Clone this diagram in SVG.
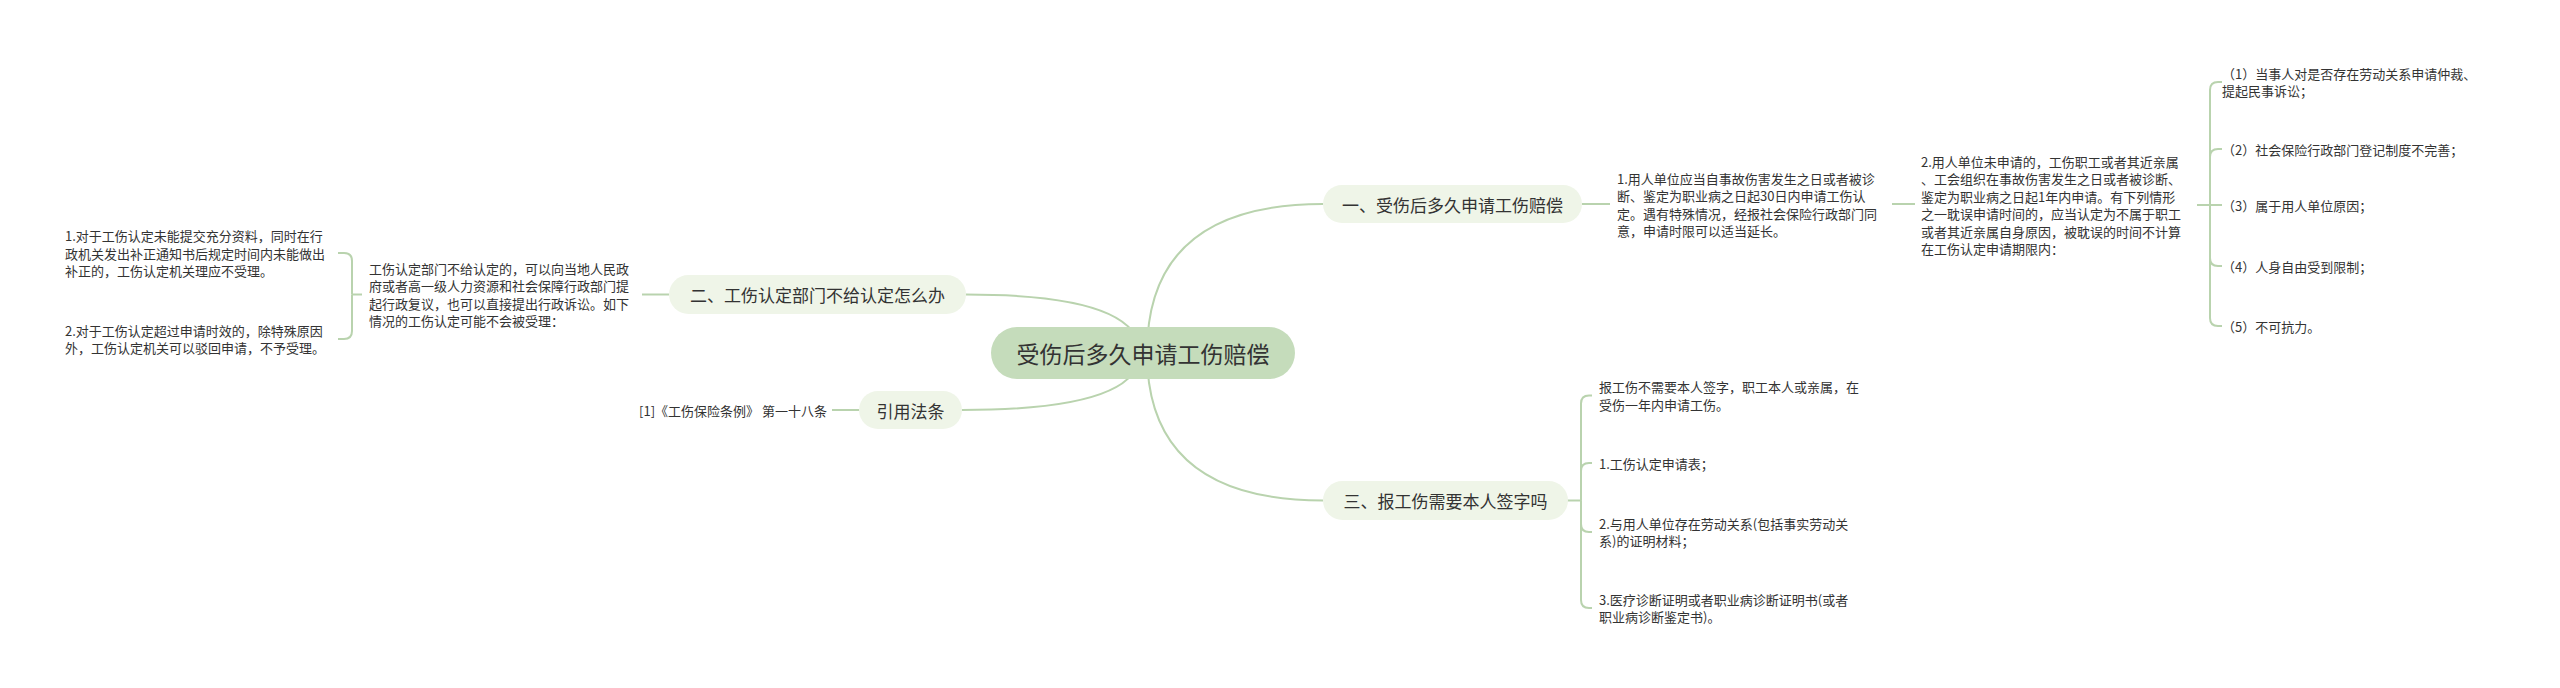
<svg xmlns="http://www.w3.org/2000/svg" width="2560" height="688" viewBox="0 0 2560 688">
<style>
text{font-family:"Noto Sans CJK SC","Noto Sans",sans-serif;fill:#333;dominant-baseline:central}
.c{fill:none;stroke:#b9d3ae;stroke-width:2}
.root{fill:#c5dcbb}
.br{fill:#eff5e8}
.t23{font-size:23px;text-anchor:middle}
.t17{font-size:17px;text-anchor:middle}
.t13{font-size:13px}
</style>
<rect width="2560" height="688" fill="#fff"/>
<g id="connectors">
<path class="c" d="M1147 353 Q1147 204 1323 204"/>
<path class="c" d="M1147 353 Q1147 500.5 1323 500.5"/>
<path class="c" d="M1140 353 Q1140 294.5 966 294.5"/>
<path class="c" d="M1140 353 Q1140 410 962 410"/>
<path class="c" d="M1582 204 H1610"/>
<path class="c" d="M1892 204 H1915"/>
<path class="c" d="M2197 205 H2210"/>
<path class="c" d="M2210 205 V90 Q2210 82 2218 82 H2222"/>
<path class="c" d="M2210 205 V157 Q2210 149 2218 149 H2222"/>
<path class="c" d="M2210 205 H2222"/>
<path class="c" d="M2210 205 V258 Q2210 266 2218 266 H2222"/>
<path class="c" d="M2210 205 V318 Q2210 326 2218 326 H2222"/>
<path class="c" d="M1567 500.5 H1581"/>
<path class="c" d="M1581 500.5 V403.5 Q1581 395.5 1589 395.5 H1592"/>
<path class="c" d="M1581 500.5 V471 Q1581 463 1589 463 H1592"/>
<path class="c" d="M1581 500.5 V524 Q1581 532 1589 532 H1592"/>
<path class="c" d="M1581 500.5 V600 Q1581 608 1589 608 H1592"/>
<path class="c" d="M669 294.5 H642"/>
<path class="c" d="M362 294.5 H352"/>
<path class="c" d="M352 294.5 V261 Q352 253 344 253 H338"/>
<path class="c" d="M352 294.5 V331 Q352 339 344 339 H338"/>
<path class="c" d="M859 410 H832"/>
</g>
<g id="root">
<rect class="root" x="991" y="327" width="304" height="52" rx="26"/>
<text class="t23" x="1143" y="353">受伤后多久申请工伤赔偿</text>
</g>
<g id="b1">
<rect class="br" x="1323" y="185" width="259" height="38" rx="19"/>
<text class="t17" x="1452.5" y="204">一、受伤后多久申请工伤赔偿</text>
</g>
<g id="b2">
<rect class="br" x="669" y="275" width="297" height="39" rx="19.5"/>
<text class="t17" x="817.5" y="294.5">二、工伤认定部门不给认定怎么办</text>
</g>
<g id="b3">
<rect class="br" x="1323" y="481" width="245" height="39" rx="19.5"/>
<text class="t17" x="1445.5" y="500.5">三、报工伤需要本人签字吗</text>
</g>
<g id="b4">
<rect class="br" x="859" y="391" width="103" height="38" rx="19"/>
<text class="t17" x="910.5" y="410">引用法条</text>
</g>
<g id="b1-1">
<text class="t13" x="1617" y="178">1.用人单位应当自事故伤害发生之日或者被诊</text>
<text class="t13" x="1617" y="195.5">断、鉴定为职业病之日起30日内申请工伤认</text>
<text class="t13" x="1617" y="213">定。遇有特殊情况，经报社会保险行政部门同</text>
<text class="t13" x="1617" y="230.5">意，申请时限可以适当延长。</text>
</g>
<g id="b1-2">
<text class="t13" x="1921" y="161.25">2.用人单位未申请的，工伤职工或者其近亲属</text>
<text class="t13" x="1921" y="178.75">、工会组织在事故伤害发生之日或者被诊断、</text>
<text class="t13" x="1921" y="196.25">鉴定为职业病之日起1年内申请。有下列情形</text>
<text class="t13" x="1921" y="213.75">之一耽误申请时间的，应当认定为不属于职工</text>
<text class="t13" x="1921" y="231.25">或者其近亲属自身原因，被耽误的时间不计算</text>
<text class="t13" x="1921" y="248.75">在工伤认定申请期限内：</text>
</g>
<g id="b1-2-1">
<text class="t13" x="2222" y="73.25">（1）当事人对是否存在劳动关系申请仲裁、</text>
<text class="t13" x="2222" y="90.75">提起民事诉讼；</text>
</g>
<g id="b1-2-2"><text class="t13" x="2222" y="149">（2）社会保险行政部门登记制度不完善；</text></g>
<g id="b1-2-3"><text class="t13" x="2222" y="205">（3）属于用人单位原因；</text></g>
<g id="b1-2-4"><text class="t13" x="2222" y="266">（4）人身自由受到限制；</text></g>
<g id="b1-2-5"><text class="t13" x="2222" y="326">（5）不可抗力。</text></g>
<g id="b3-1">
<text class="t13" x="1599" y="386.75">报工伤不需要本人签字，职工本人或亲属，在</text>
<text class="t13" x="1599" y="404.25">受伤一年内申请工伤。</text>
</g>
<g id="b3-2"><text class="t13" x="1599" y="463">1.工伤认定申请表；</text></g>
<g id="b3-3">
<text class="t13" x="1599" y="523.25">2.与用人单位存在劳动关系(包括事实劳动关</text>
<text class="t13" x="1599" y="540.75">系)的证明材料；</text>
</g>
<g id="b3-4">
<text class="t13" x="1599" y="599.25">3.医疗诊断证明或者职业病诊断证明书(或者</text>
<text class="t13" x="1599" y="616.75">职业病诊断鉴定书)。</text>
</g>
<g id="b2-1">
<text class="t13" x="369" y="268.25">工伤认定部门不给认定的，可以向当地人民政</text>
<text class="t13" x="369" y="285.75">府或者高一级人力资源和社会保障行政部门提</text>
<text class="t13" x="369" y="303.25">起行政复议，也可以直接提出行政诉讼。如下</text>
<text class="t13" x="369" y="320.75">情况的工伤认定可能不会被受理：</text>
</g>
<g id="b2-1-1">
<text class="t13" x="65" y="235.5">1.对于工伤认定未能提交充分资料，同时在行</text>
<text class="t13" x="65" y="253">政机关发出补正通知书后规定时间内未能做出</text>
<text class="t13" x="65" y="270.5">补正的，工伤认定机关理应不受理。</text>
</g>
<g id="b2-1-2">
<text class="t13" x="65" y="330.25">2.对于工伤认定超过申请时效的，除特殊原因</text>
<text class="t13" x="65" y="347.75">外，工伤认定机关可以驳回申请，不予受理。</text>
</g>
<g id="b4-1"><text class="t13" x="827" y="410" text-anchor="end">[1]《工伤保险条例》 第一十八条</text></g>
</svg>
